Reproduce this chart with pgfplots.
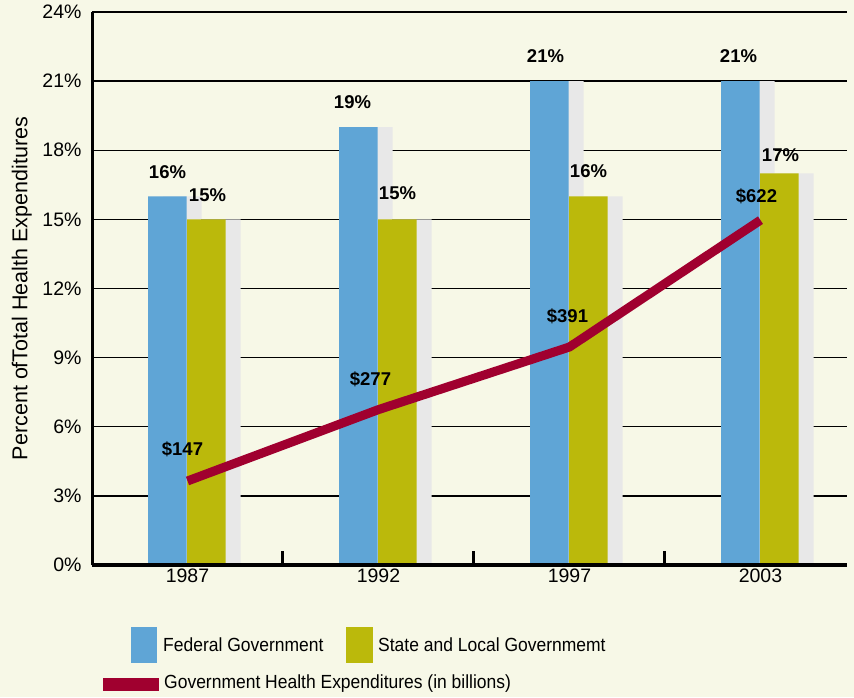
\documentclass[border=0pt]{standalone}
\usepackage{pgfplots}
\usepackage{pgfplotstable}
\pgfplotsset{compat=1.18}
\usepackage{fontspec}
\setmainfont{Liberation Sans}
\newfontfamily\condfont{Liberation Sans}[FakeStretch=0.92]
\definecolor{bg}{HTML}{F7F8E7}
\definecolor{fed}{HTML}{5FA5D6}
\definecolor{st}{HTML}{BBB90B}
\definecolor{shd}{HTML}{E8E8E8}
\definecolor{ln}{HTML}{A0002F}
% x = category index (1987, 1992, 1997, 2003); dx, dy = label offsets in pt
\pgfplotstableread{
x y  dx dy
0 16 0  24
1 19 -6 25
2 21 -4 25
3 21 -2 25
}\federal
\pgfplotstableread{
x y  dx dy
0 15 1  24
1 15 0  26
2 16 0  25
3 17 1  18
}\statelocal
\pgfplotstableread{
x y   dx dy
0 147 -5 32
1 277 -8 30
2 391 -2 31
3 622 -4 24
}\spending
\begin{document}
\begin{tikzpicture}[x=1pt,y=1pt]
\fill[bg] (0,0) rectangle (854,697);
\useasboundingbox (0,0) rectangle (854,697);
\begin{axis}[
  at={(92pt,132pt)}, anchor=south west,
  scale only axis, width=755pt, height=553pt,
  xmin=-0.5, xmax=3.453, ymin=0, ymax=24,
  axis x line*=bottom, axis y line*=left,
  axis line style={-, black, line width=2.8pt},
  /pgf/number format/assume math mode=true,
  ytick={0,3,...,24},
  yticklabel={\pgfmathprintnumber{\tick}\%},
  yticklabel style={font=\fontsize{19.5}{21}\selectfont, xshift=-7pt},
  ymajorgrids, grid style={black, line width=1.3pt},
  major tick length=0pt,
  xtick={0,1,2,3}, xticklabels={1987,1992,1997,2003},
  xticklabel style={font=\fontsize{19.5}{21}\selectfont},
  every axis y label/.style={at={(axis description cs:-0.093,0.5)}, rotate=90, anchor=center, font=\fontsize{21.5}{23}\selectfont},
  ylabel={Percent ofTotal Health Expenditures},
  ybar, bar width=38.5pt,
  clip=false,
  lbl/.style={
    nodes near coords={\pgfmathprintnumber{\pgfplotspointmeta}\%},
    visualization depends on={\thisrow{dx} \as \ldx},
    visualization depends on={\thisrow{dy} \as \ldy},
    every node near coord/.append style={text=black, font=\bfseries\fontsize{18.5}{20}\selectfont, anchor=center, xshift=\ldx pt, yshift=\ldy pt}},
]
\addplot[fill=shd, draw=none, bar shift=-5pt] table[x=x,y=y] {\federal};
\addplot[fill=shd, draw=none, bar shift=34pt] table[x=x,y=y] {\statelocal};
\addplot[fill=fed, draw=none, bar shift=-20pt, lbl] table[x=x,y=y] {\federal};
\addplot[fill=st, draw=none, bar shift=19pt, lbl] table[x=x,y=y] {\statelocal};
\draw[black, line width=3.6pt] (axis cs:-0.5,0) -- (axis cs:3.453,0);
\draw[black, line width=3pt] (axis cs:-0.5,0) -- (axis cs:-0.5,24);
\pgfplotsinvokeforeach{-0.5,0.5,1.5,2.5}{
  \draw[black, line width=3pt] (axis cs:#1,0) -- ++(0pt,14pt);
}
\end{axis}
\begin{axis}[
  at={(92pt,132pt)}, anchor=south west,
  scale only axis, width=755pt, height=553pt,
  xmin=-0.5, xmax=3.453, ymin=-6, ymax=1001,
  hide axis, clip=false,
  /pgf/number format/assume math mode=true,
]
\addplot[ln, line width=9pt, mark=none,
  point meta=rawy,
  nodes near coords={\$\pgfmathprintnumber{\pgfplotspointmeta}},
  visualization depends on={\thisrow{dx} \as \ldx},
  visualization depends on={\thisrow{dy} \as \ldy},
  every node near coord/.append style={text=black, font=\bfseries\fontsize{18.5}{20}\selectfont, anchor=center, xshift=\ldx pt, yshift=\ldy pt}]
  table[x=x,y=y] {\spending};
\end{axis}
\fill[fed] (131,34) rectangle (157,70);
\node[anchor=west, font=\condfont\fontsize{19}{21}\selectfont, inner sep=0pt] at (163,52) {Federal Government};
\fill[st] (346,34) rectangle (373,70);
\node[anchor=west, font=\condfont\fontsize{19}{21}\selectfont, inner sep=0pt] at (378,52) {State and Local Governmemt};
\fill[ln] (103,6) rectangle (159,19);
\node[anchor=west, font=\condfont\fontsize{19}{21}\selectfont, inner sep=0pt] at (164,13) {Government Health Expenditures (in billions)};
\end{tikzpicture}
\end{document}
